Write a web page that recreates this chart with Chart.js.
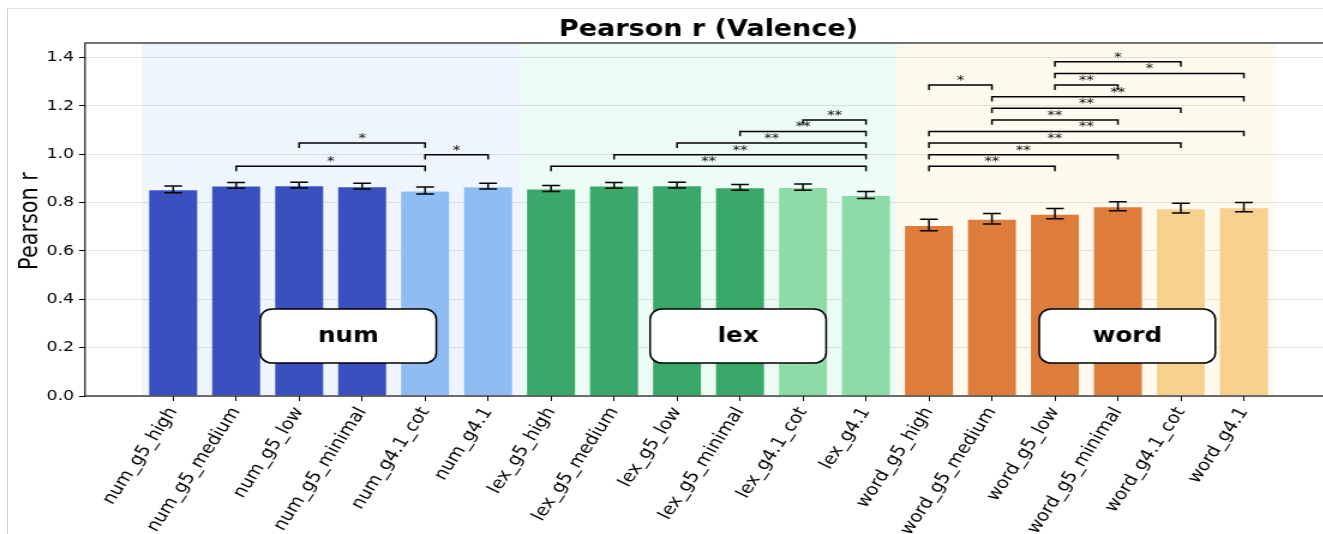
<!DOCTYPE html>
<html>
<head>
<meta charset="utf-8">
<script src="https://cdn.jsdelivr.net/npm/chart.js@4.4.1/dist/chart.umd.min.js"></script>
<style>
  html, body { margin: 0; padding: 0; background: #fff; overflow: hidden; width: 1323px; height: 534px; }
  #frame { position: absolute; left: 7px; top: 8px; width: 1400px; height: 600px;
           border-left: 1px solid #d4d4d4; border-top: 1px solid #e4e4e4; }
  #stage { position: absolute; left: 0; top: 0; transform: scaleX(1.2); transform-origin: 0 0; }
</style>
</head>
<body>
<div id="frame"></div>
<div id="stage"><canvas id="chart" width="1130" height="534"></canvas></div>
<script>
// ---- data ----
const categories = [
  'num_g5_high', 'num_g5_medium', 'num_g5_low', 'num_g5_minimal', 'num_g4.1_cot', 'num_g4.1',
  'lex_g5_high', 'lex_g5_medium', 'lex_g5_low', 'lex_g5_minimal', 'lex_g4.1_cot', 'lex_g4.1',
  'word_g5_high', 'word_g5_medium', 'word_g5_low', 'word_g5_minimal', 'word_g4.1_cot', 'word_g4.1'
];
const pearsonR = [
  0.855, 0.871, 0.872, 0.868, 0.850, 0.868,
  0.858, 0.871, 0.872, 0.863, 0.864, 0.831,
  0.707, 0.733, 0.754, 0.785, 0.777, 0.781
];
const errorHalf = [
  0.014, 0.012, 0.012, 0.0115, 0.0145, 0.0115,
  0.0125, 0.012, 0.012, 0.012, 0.013, 0.0145,
  0.024, 0.0215, 0.021, 0.0186, 0.020, 0.019
];
const groupNames = ['num', 'lex', 'word'];
const groupSpans = [[-0.5, 5.5], [5.5, 11.5], [11.5, 17.5]];
const yTickValues = [0, 0.2, 0.4, 0.6, 0.8, 1.0, 1.2, 1.4];

// significance brackets: bar index pairs, bracket height, marker
const sigPairs = [
  [1, 4], [4, 5], [2, 4],
  [6, 11], [7, 11], [8, 11], [9, 11], [10, 11],
  [12, 14], [12, 15], [12, 16], [12, 17], [13, 15], [13, 16], [13, 17], [12, 13], [14, 15], [14, 17], [14, 16]
];
const sigLevels = [
  0.950, 0.998, 1.046,
  0.950, 0.998, 1.046, 1.094, 1.142,
  0.950, 0.998, 1.046, 1.094, 1.142, 1.190, 1.238, 1.286, 1.286, 1.334, 1.382
];
const sigMarks = [
  '*', '*', '*',
  '**', '**', '**', '**', '**',
  '**', '**', '**', '**', '**', '**', '**', '*', '**', '*', '*'
];

// ---- styling ----
const groupPalette = {
  num:  { main: '#3b50bf', alt: '#8fbcf2', band: '#eef5fd' },
  lex:  { main: '#3aa86a', alt: '#8ddca8', band: '#ecfbf3' },
  word: { main: '#de7d3b', alt: '#f8d18f', band: '#fffaee' }
};
const barColors = categories.map(c => {
  const p = groupPalette[c.split('_')[0]];
  return c.includes('g4.1') ? p.alt : p.main;
});

const STRETCH = 1.2;          // horizontal scale applied to the stage
const W = 1130, H = 534;
const AREA = { left: 85 / STRETCH, right: 1332 / STRETCH, top: 43, bottom: 396 };
const FONT = 'DejaVu Sans';

const decorations = {
  id: 'decorations',
  beforeDraw(chart) {
    const { ctx, chartArea: a, scales: { x } } = chart;
    ctx.save();
    groupNames.forEach((g, i) => {
      const x0 = x.getPixelForValue(groupSpans[i][0]);
      const x1 = x.getPixelForValue(groupSpans[i][1]);
      ctx.fillStyle = groupPalette[g].band;
      ctx.fillRect(x0, a.top, x1 - x0, a.bottom - a.top);
    });
    ctx.restore();
  },
  afterDatasetsDraw(chart) {
    const { ctx, scales: { x, y } } = chart;
    ctx.save();
    ctx.strokeStyle = '#000';
    ctx.lineWidth = 1.5;
    // error bars
    const cap = 7.4;
    pearsonR.forEach((v, i) => {
      const px = x.getPixelForValue(i);
      const yTop = y.getPixelForValue(v + errorHalf[i]);
      const yBot = y.getPixelForValue(v - errorHalf[i]);
      ctx.beginPath();
      ctx.moveTo(px, yTop); ctx.lineTo(px, yBot);
      ctx.moveTo(px - cap, yTop); ctx.lineTo(px + cap, yTop);
      ctx.moveTo(px - cap, yBot); ctx.lineTo(px + cap, yBot);
      ctx.stroke();
    });
    // significance brackets
    const drop = 0.02;
    ctx.font = '12.5px "' + FONT + '"';
    ctx.textAlign = 'center';
    ctx.textBaseline = 'alphabetic';
    ctx.fillStyle = '#111';
    sigPairs.forEach(([i, j], k) => {
      const x1 = x.getPixelForValue(i), x2 = x.getPixelForValue(j);
      const yl = y.getPixelForValue(sigLevels[k]);
      const yd = y.getPixelForValue(sigLevels[k] - drop);
      ctx.beginPath();
      ctx.moveTo(x1, yd); ctx.lineTo(x1, yl); ctx.lineTo(x2, yl); ctx.lineTo(x2, yd);
      ctx.stroke();
      ctx.fillText(sigMarks[k], (x1 + x2) / 2, yl - 1);
    });
    // group tags
    const tagX = [2.78, 8.97, 15.15], tagY = 0.248;
    const bw = 146.7, bh = 54;
    groupNames.forEach((g, i) => {
      const cx = x.getPixelForValue(tagX[i]);
      const cy = y.getPixelForValue(tagY);
      ctx.beginPath();
      ctx.roundRect(cx - bw / 2, cy - bh / 2, bw, bh, 10);
      ctx.fillStyle = '#fff';
      ctx.fill();
      ctx.lineWidth = 1.5;
      ctx.strokeStyle = '#000';
      ctx.stroke();
      ctx.fillStyle = '#000';
      ctx.font = 'bold 20.5px "' + FONT + '"';
      ctx.textBaseline = 'middle';
      ctx.fillText(g, cx, cy + 1);
    });
    ctx.restore();
  },
  afterDraw(chart) {
    const { ctx, chartArea: a } = chart;
    ctx.save();
    // spines
    ctx.strokeStyle = '#000';
    ctx.lineWidth = 1.1;
    ctx.strokeRect(a.left, a.top, a.right - a.left, a.bottom - a.top);
    // title
    ctx.fillStyle = '#000';
    ctx.font = 'bold 22.5px "' + FONT + '"';
    ctx.textAlign = 'center';
    ctx.textBaseline = 'alphabetic';
    ctx.fillText('Pearson r (Valence)', (a.left + a.right) / 2, 35.5);
    // y axis title
    ctx.translate(30.8, (a.top + a.bottom) / 2 + 1.5);
    ctx.rotate(-Math.PI / 2);
    ctx.font = '20.8px "' + FONT + '"';
    ctx.fillText('Pearson r', 0, 0);
    ctx.restore();
  }
};

new Chart(document.getElementById('chart'), {
  type: 'bar',
  data: {
    datasets: [{
      data: categories.map((c, i) => ({ x: i, y: pearsonR[i] })),
      backgroundColor: barColors,
      borderColor: 'rgba(255,255,255,0.55)',
      borderWidth: 1,
      barPercentage: 0.8,
      categoryPercentage: 1.0
    }]
  },
  options: {
    responsive: false,
    animation: false,
    events: [],
    layout: { padding: { top: AREA.top, right: W - AREA.right, bottom: 0, left: 0 } },
    plugins: { legend: { display: false }, tooltip: { enabled: false }, title: { display: false } },
    scales: {
      x: {
        type: 'linear', min: -1.4, max: 18.4, offset: false,
        afterBuildTicks: s => { s.ticks = categories.map((c, i) => ({ value: i })); },
        afterFit: s => { s.height = H - AREA.bottom; },
        ticks: {
          autoSkip: false, minRotation: 60, maxRotation: 60, padding: 3,
          font: { family: FONT, size: 16.3 }, color: '#000',
          callback: v => categories[v]
        },
        grid: { drawOnChartArea: false, offset: false, tickLength: 5, tickColor: '#000', tickWidth: 1 },
        border: { display: false }
      },
      y: {
        min: 0, max: 1.46,
        afterBuildTicks: s => { s.ticks = yTickValues.map(v => ({ value: v })); },
        afterFit: s => { s.width = AREA.left; },
        ticks: { padding: 4, font: { family: FONT, size: 14.5 }, color: '#000', callback: v => v.toFixed(1) },
        grid: { color: 'rgba(0,0,0,0.1)', lineWidth: 1, tickLength: 5, tickColor: '#000', tickWidth: 1 },
        border: { display: false }
      }
    }
  },
  plugins: [decorations]
});
</script>
</body>
</html>
